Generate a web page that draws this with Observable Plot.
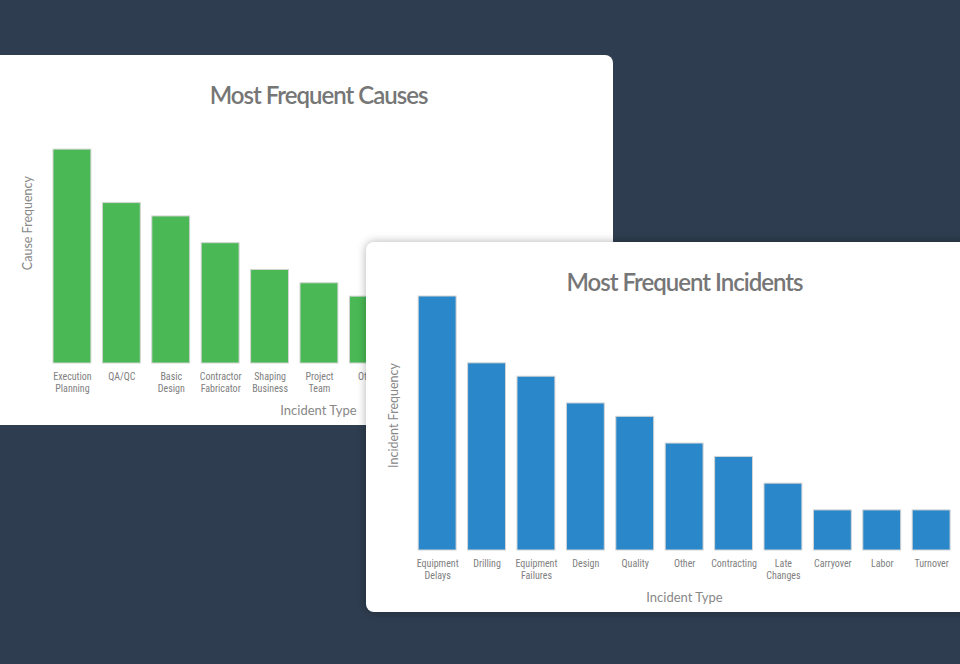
<!DOCTYPE html>
<html><head><meta charset="utf-8">
<script src="https://cdn.jsdelivr.net/npm/d3@7"></script>
<script src="https://cdn.jsdelivr.net/npm/@observablehq/plot@0.6"></script>
<style>
html,body{margin:0;padding:0;}
body{width:960px;height:664px;background:#2e3d4f;position:relative;overflow:hidden;font-family:Lato,sans-serif;}
.card{position:absolute;background:#fff;overflow:hidden;}
#causes{left:0;top:55px;width:613px;height:370px;border-radius:0 8px 8px 0;}
#incidents{left:366px;top:242px;width:614px;height:370px;border-radius:8px;box-shadow:0 0 10px rgba(0,0,0,0.3);}
.card svg{position:absolute;left:0;top:0;}
.card svg g[font-size="24"] text{letter-spacing:-1px;}
</style></head><body>
<div class="card" id="causes"></div>
<div class="card" id="incidents"></div>
<script>
const causeCategories = ["Execution Planning","QA/QC","Basic Design","Contractor Fabricator","Shaping Business","Project Team","Other"];
const causeLabels = ["Execution\nPlanning","QA/QC","Basic\nDesign","Contractor\nFabricator","Shaping\nBusiness","Project\nTeam","Other"];
const causeValues = [16,12,11,9,7,6,5];

const incidentCategories = ["Equipment Delays","Drilling","Equipment Failures","Design","Quality","Other","Contracting","Late Changes","Carryover","Labor","Turnover"];
const incidentLabels = ["Equipment\nDelays","Drilling","Equipment\nFailures","Design","Quality","Other","Contracting","Late\nChanges","Carryover","Labor","Turnover"];
const incidentValues = [19,14,13,11,10,8,7,5,3,3,3];

const yMax = 19;

function chart({categories, labels, values, color, title, xLabel, yLabel, xRange, width}) {
  const data = categories.map((c, i) => ({category: c, label: labels[i], value: values[i]}));
  return Plot.plot({
    width, height: 370,
    marginLeft: 52, marginRight: width - 584, marginTop: 54, marginBottom: 62,
    style: {background: "transparent", fontFamily: "Lato, sans-serif"},
    x: {domain: categories, range: xRange, paddingInner: 0.233, paddingOuter: 0, round: false, axis: null},
    y: {domain: [0, yMax], axis: null},
    marks: [
      Plot.barY(data, {x: "category", y: "value", fill: color, stroke: "#d4d4d4", strokeWidth: 1}),
      Plot.text(data, {x: "category", frameAnchor: "bottom", text: "label", lineAnchor: "top", dy: 7.5, fontSize: 10, lineHeight: 1.2, fill: "#808080", fontFamily: "'Liberation Sans Narrow', 'Roboto Condensed', Roboto, sans-serif"}),
      Plot.text([title], {frameAnchor: "top", lineAnchor: "bottom", dy: -6, fontSize: 24, fill: "#767676", fontWeight: 600}),
      Plot.text([xLabel], {frameAnchor: "bottom", lineAnchor: "bottom", dy: 51, fontSize: 13, fill: "#888"}),
      Plot.text([yLabel], {frameAnchor: "left", rotate: -90, textAnchor: "end", lineAnchor: "middle", dx: -25, dy: -60.5, fontSize: 12.5, fill: "#888"})
    ]
  });
}

document.getElementById("causes").append(chart({
  categories: causeCategories, labels: causeLabels, values: causeValues,
  color: "#4ab955", title: "Most Frequent Causes", xLabel: "Incident Type", yLabel: "Cause Frequency",
  xRange: [53, 387.3], width: 613
}));
document.getElementById("incidents").append(chart({
  categories: incidentCategories, labels: incidentLabels, values: incidentValues,
  color: "#2987ca", title: "Most Frequent Incidents", xLabel: "Incident Type", yLabel: "Incident Frequency",
  xRange: [52.2, 584.1], width: 614
}));
</script>
</body></html>
